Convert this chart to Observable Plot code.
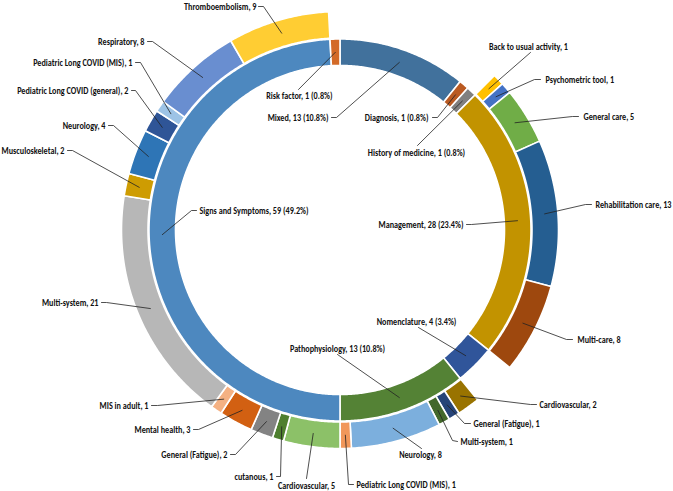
<!DOCTYPE html>
<html><head><meta charset="utf-8">
<script src="https://cdn.jsdelivr.net/npm/d3@7"></script>
<script src="https://cdn.jsdelivr.net/npm/@observablehq/plot@0.6"></script>
<style>body{margin:0;background:#fff}</style>
</head><body><div id="chart"></div>
<script>
// ---------- DATA ----------
const innerCategories = ["Mixed","Diagnosis","History of medicine","Management","Nomenclature","Pathophysiology","Signs and Symptoms","Risk factor"];
const innerCounts = [13,1,1,28,4,13,59,1];
const innerPctLabels = ["10.8%","0.8%","0.8%","23.4%","3.4%","10.8%","49.2%","0.8%"];

const outerParents = [
  "Management","Management","Management","Management","Management",
  "Pathophysiology","Pathophysiology","Pathophysiology","Pathophysiology","Pathophysiology",
  "Signs and Symptoms","Signs and Symptoms","Signs and Symptoms","Signs and Symptoms","Signs and Symptoms","Signs and Symptoms",
  "Signs and Symptoms","Signs and Symptoms","Signs and Symptoms","Signs and Symptoms","Signs and Symptoms","Signs and Symptoms"
];
const outerNames = [
  "Back to usual activity","Psychometric tool","General care","Rehabilitation care","Multi-care",
  "Cardiovascular","General (Fatigue)","Multi-system","Neurology","Pediatric Long COVID (MIS)",
  "Cardiovascular","cutanous","General (Fatigue)","Mental health","MIS in adult","Multi-system",
  "Musculoskeletal","Neurology","Pediatric Long COVID (general)","Pediatric Long COVID (MIS)","Respiratory","Thromboembolism"
];
const outerCounts = [1,1,5,13,8, 2,1,1,8,1, 5,1,2,3,1,21,2,4,2,1,8,9];

// ---------- STYLE ----------
const innerColors = ["#41719C","#BA5A22","#808080","#C29300","#30559A","#548235","#4D88BF","#D36A28"];
const outerColors = [
  "#FFC000","#4472C4","#70AD47","#255E91","#9E480E",
  "#997300","#264478","#43682B","#7CAFDD","#F1975A",
  "#8CC168","#4E7F2F","#838383","#D26012","#F4B183","#B7B7B7",
  "#CE9C02","#2E75B6","#2F5597","#9DC3E6","#698ED0","#FFCD33"
];

function fontAvailable(name) {
  const ctx = document.createElement("canvas").getContext("2d");
  const s = "Thromboembolism, 9 WwIl";
  ctx.font = "bold 20px monospace"; const a = ctx.measureText(s).width;
  ctx.font = `bold 20px '${name}', monospace`; const b = ctx.measureText(s).width;
  return Math.abs(a - b) > 0.5;
}
const hasCarlito = fontAvailable("Carlito");
const FONT = hasCarlito ? "Carlito, 'Liberation Sans', sans-serif" : "'Liberation Sans', Arial, sans-serif";
const FONT_SIZE = hasCarlito ? 9.5 : 9;
const X_SCALE = hasCarlito ? 0.86 : 0.8;

// label placement (layout only): text anchor point, alignment, and leader points near the text
const labelLayout = {
  "Signs and Symptoms|Thromboembolism": {t:[256,6], a:"end", via:[[263,6],[258,6]]},
  "Signs and Symptoms|Respiratory": {t:[144,41], a:"end", via:[[152,41],[147,41]]},
  "Signs and Symptoms|Pediatric Long COVID (MIS)": {t:[132,62], a:"end", via:[[140,62],[135,62]]},
  "Signs and Symptoms|Pediatric Long COVID (general)": {t:[128,90], a:"end", via:[[135,90],[131,90]]},
  "Signs and Symptoms|Neurology": {t:[105,125], a:"end", via:[[113,125],[108,125]]},
  "Signs and Symptoms|Musculoskeletal": {t:[64,150], a:"end", via:[[72,150],[67,150]]},
  "Signs and Symptoms|Multi-system": {t:[98,302], a:"end", via:[[106,302],[101,302]]},
  "Signs and Symptoms|MIS in adult": {t:[148,405], a:"end", via:[[157,405],[151,405]]},
  "Signs and Symptoms|Mental health": {t:[190,429], a:"end", via:[[198,429],[193,429]]},
  "Signs and Symptoms|General (Fatigue)": {t:[227,454], a:"end", via:[[235,454],[230,454]]},
  "Signs and Symptoms|cutanous": {t:[273,476], a:"end", via:[[280,476],[276,476]]},
  "Signs and Symptoms|Cardiovascular": {t:[306,485], a:"middle", via:[[306,478]]},
  "Pathophysiology|Pediatric Long COVID (MIS)": {t:[356,484], a:"start", via:[[348,484],[353,484]]},
  "Pathophysiology|Neurology": {t:[420,454], a:"middle", via:[[421,448]]},
  "Pathophysiology|Multi-system": {t:[460,441], a:"start", via:[[452,440],[457,441]]},
  "Pathophysiology|General (Fatigue)": {t:[473,423], a:"start", via:[[464,423],[470,423]]},
  "Pathophysiology|Cardiovascular": {t:[539,404], a:"start", via:[[530,404],[536,404]]},
  "Management|Multi-care": {t:[577,339], a:"start", via:[[566,339],[572,339]]},
  "Management|Rehabilitation care": {t:[595,204], a:"start", via:[[585,204],[591,204]]},
  "Management|General care": {t:[583,116], a:"start", via:[[572,116],[578,116]]},
  "Management|Psychometric tool": {t:[545,79], a:"start", via:[[534,79],[540,79]]},
  "Management|Back to usual activity": {t:[528,46], a:"middle", via:[[530,52]]},
  "Risk factor": {t:[332,95], a:"end", via:[[298,89]]},
  "Mixed": {t:[328,117], a:"end", via:[[336,117],[331,117]]},
  "Diagnosis": {t:[428,117], a:"end", via:[[437,117],[432,117]]},
  "History of medicine": {t:[416,152], a:"middle", via:[[417,145]]},
  "Signs and Symptoms": {t:[199,210], a:"start", via:[[191,210],[196,210]]},
  "Management": {t:[463,224], a:"end", via:[[471,224],[466,224]]},
  "Nomenclature": {t:[416,321], a:"middle", via:[[418,327]]},
  "Pathophysiology": {t:[337,348], a:"middle", via:[[337,354]]}
};

// ---------- GEOMETRY ----------
const W = 673, H = 491;
const cx = 339.5, cy = 229.5;
const innerR = [164.5, 191], outerR = [192, 218.5];
const total = d3.sum(innerCounts);
const toDeg = v => v / total * 360;
function polar(r, a) { const t = a * Math.PI / 180; return [cx + r * Math.sin(t), cy - r * Math.cos(t)]; }
function arcPolygon(r0, r1, a0, a1) {
  const n = Math.max(2, Math.ceil((a1 - a0) / 0.5));
  const out = d3.range(n + 1).map(i => polar(r1, a0 + (a1 - a0) * i / n));
  const inn = d3.range(n + 1).map(i => polar(r0, a1 - (a1 - a0) * i / n));
  return {type: "Polygon", coordinates: [[...out, ...inn, out[0]]]};
}

const slices = [];
const labels = [];
const parentStart = {};
let acc = 0;
innerCategories.forEach((name, i) => {
  const a0 = toDeg(acc), a1 = toDeg(acc + innerCounts[i]);
  acc += innerCounts[i];
  parentStart[name] = a0;
  slices.push({type: "Feature", properties: {key: name}, geometry: arcPolygon(innerR[0], innerR[1], a0, a1)});
  labels.push({key: name, text: `${name}, ${innerCounts[i]} (${innerPctLabels[i]})`, anchor: polar((innerR[0] + innerR[1]) / 2, (a0 + a1) / 2)});
});
const parentAcc = {};
outerNames.forEach((name, i) => {
  const p = outerParents[i];
  const offset = parentAcc[p] ?? 0;
  const a0 = parentStart[p] + toDeg(offset), a1 = parentStart[p] + toDeg(offset + outerCounts[i]);
  parentAcc[p] = offset + outerCounts[i];
  const key = `${p}|${name}`;
  slices.push({type: "Feature", properties: {key}, geometry: arcPolygon(outerR[0], outerR[1], a0, a1)});
  labels.push({key, text: `${name}, ${outerCounts[i]}`, anchor: polar((outerR[0] + outerR[1]) / 2, (a0 + a1) / 2)});
});

labels.forEach(d => { const L = labelLayout[d.key]; d.tx = L.t[0]; d.ty = L.t[1]; d.align = L.a; });
const leaders = labels.flatMap(d => [d.anchor, ...labelLayout[d.key].via].map((p, j) => ({key: d.key, x: p[0], y: p[1], j})));

const colorDomain = [...innerCategories, ...outerNames.map((n, i) => `${outerParents[i]}|${n}`)];
const colorRange = [...innerColors, ...outerColors];

const textOpts = {x: "tx", y: "ty", text: "text", fontSize: FONT_SIZE, fontWeight: "bold", fontFamily: FONT, fill: "#111"};

const chart = Plot.plot({
  width: W, height: H, margin: 0,
  projection: {type: "identity", domain: {type: "MultiPoint", coordinates: [[0, 0], [W, H]]}},
  color: {type: "ordinal", domain: colorDomain, range: colorRange},
  marks: [
    Plot.geo(slices, {fill: d => d.properties.key, stroke: "white", strokeWidth: 1.6}),
    Plot.line(leaders, {x: "x", y: "y", z: "key", stroke: "#222", strokeWidth: 0.8}),
    Plot.text(labels.filter(d => d.align === "end"), {...textOpts, textAnchor: "end"}),
    Plot.text(labels.filter(d => d.align === "start"), {...textOpts, textAnchor: "start"}),
    Plot.text(labels.filter(d => d.align === "middle"), {...textOpts, textAnchor: "middle"})
  ]
});
// the reference's label glyphs are horizontally condensed; condense around each text's anchor point
if (X_SCALE !== 1) {
  d3.select(chart).selectAll("text").each(function() {
    const t = this.getAttribute("transform");
    if (t && t.includes("translate")) this.setAttribute("transform", `${t} scale(${X_SCALE},1)`);
  });
}
document.getElementById("chart").appendChild(chart);
</script>
</body></html>
